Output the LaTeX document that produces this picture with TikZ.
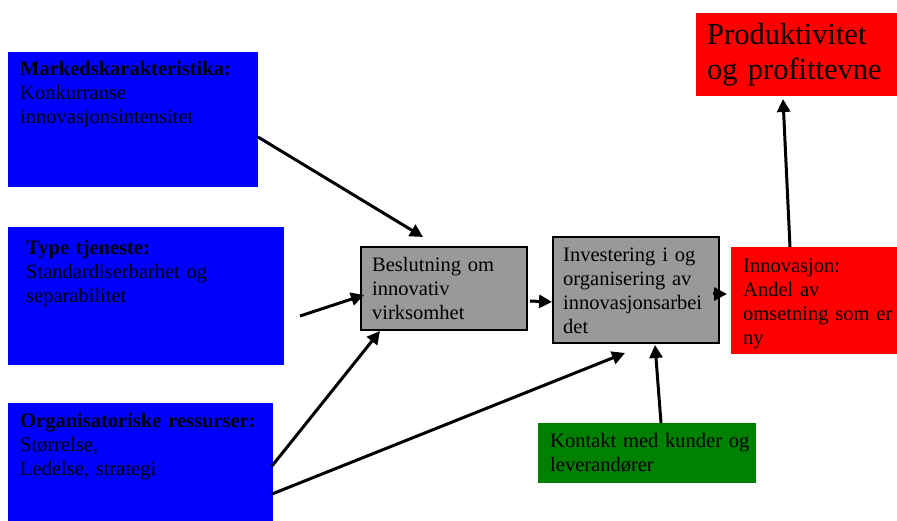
\documentclass[tikz,border=0pt]{standalone}
\usepackage{fontspec}
\setmainfont{Liberation Serif}
\usetikzlibrary{arrows.meta,calc}
\definecolor{boxblue}{HTML}{0000FF}
\definecolor{boxgray}{HTML}{999999}
\definecolor{boxred}{HTML}{FF0000}
\definecolor{boxgreen}{HTML}{008000}
\begin{document}
\begin{tikzpicture}[x=1pt,y=-1pt,
  box/.style={anchor=north west, inner sep=0pt, outer sep=0pt},
  bluebox/.style={box, fill=boxblue},
  redbox/.style={box, fill=boxred},
  greenbox/.style={box, fill=boxgreen},
  graybox/.style={box, fill=boxgray, draw=black, line width=2pt},
  txt/.style={anchor=base west, inner sep=0pt, align=left, font=\fontsize{20.5}{24}\selectfont},
  bigtxt/.style={anchor=base west, inner sep=0pt, align=left, font=\fontsize{30.5}{35}\selectfont},
  arr/.style={line width=3pt, -{Triangle[length=13pt,width=13pt]}}
]
\useasboundingbox (0,0) rectangle (897,521);
\fill[white] (0,0) rectangle (897,521);

% boxes
\node[bluebox, minimum width=250pt, minimum height=135pt] (mk) at (8,52) {};
\node[bluebox, minimum width=276pt, minimum height=138pt] (tt) at (8,227) {};
\node[bluebox, minimum width=265pt, minimum height=118pt] (or) at (8,403) {};
\node[graybox, minimum width=166pt, minimum height=83pt] (bes) at (361,247) {};
\node[graybox, minimum width=166pt, minimum height=106pt] (inv) at (553,237) {};
\node[redbox, minimum width=166pt, minimum height=107pt] (inn) at (731,247) {};
\node[redbox, minimum width=201pt, minimum height=83pt] (pro) at (696,13) {};
\node[greenbox, minimum width=218pt, minimum height=60pt] (kon) at (538,423) {};

% texts
\node[txt, text width=240pt] (mkt) at (20,76) {\textbf{Markedskarakteristika:}\\Konkurranse\\innovasjonsintensitet};
\node[txt, text width=250pt] (ttt) at (26,255) {\textbf{Type tjeneste:}\\Standardiserbarhet og\\separabilitet};
\node[txt, text width=250pt] (ort) at (20,427) {\textbf{Organisatoriske ressurser:}\\Størrelse,\\Ledelse, strategi};
\node[txt, text width=150pt] (best) at (372,272) {Beslutning om\\innovativ\\virksomhet};
\node[txt, text width=160pt] (invt) at (563,262) {Investering i og\\organisering av\\innovasjonsarbei\\det};
\node[txt, text width=160pt] (innt) at (743,273) {Innovasjon:\\Andel av\\omsetning som er\\ny};
\node[bigtxt, text width=195pt] (prot) at (707,45) {Produktivitet\\og profittevne};
\node[txt, text width=210pt] (kont) at (550,447) {Kontakt med kunder og\\leverandører};

% connectors
\coordinate (ttfree) at (300,316);
\draw[arr] ($(mk.north east)+(0,85)$) -- ($(bes.north west)+(62,-10)$);
\draw[arr] (ttfree) -- ($(bes.north west)+(3,48)$);
\draw[arr] ($(or.north east)+(-1,63)$) -- ($(bes.south west)+(19,1)$);
\draw[arr] ($(or.north east)+(-1,91)$) -- ($(inv.south west)+(72,10)$);
\draw[arr] ($(bes.south east)+(3,-29)$) -- ($(inv.north west)+(-1,65)$);
\draw[arr] ($(inv.north east)+(-6,57)$) -- ($(inn.north west)+(-4,47)$);
\draw[arr] ($(kon.north west)+(123,0)$) -- ($(inv.south west)+(102,2)$);
\draw[arr] ($(inn.north west)+(59,0)$) -- ($(pro.south west)+(87,3)$);
\end{tikzpicture}
\end{document}
